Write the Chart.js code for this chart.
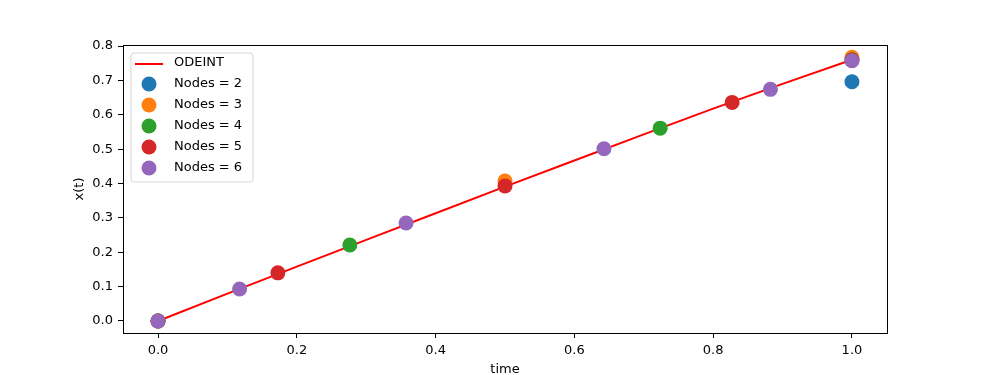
<!DOCTYPE html>
<html lang="en">
<head>
    <meta charset="UTF-8">
    <title>ODEINT vs collocation nodes</title>
    <script src="https://cdn.jsdelivr.net/npm/chart.js"></script>
    <style>
        body {
            margin: 0;
            background: #ffffff;
        }
        canvas {
            display: block;
        }
    </style>
</head>
<body>

    <canvas id="odeChart" width="984" height="375"></canvas>

    <script>
        // reference solution (odeint)
        const odeTime = [0, 0.1, 0.2, 0.3, 0.4, 0.5, 0.6, 0.7, 0.8, 0.9, 1.0];
        const odeValues = [0, 0.0795, 0.158, 0.236, 0.3135, 0.391, 0.467, 0.543, 0.618, 0.690, 0.760];

        // collocation results per number of nodes
        const nodes2Time = [0, 1];
        const nodes2Values = [0, 0.696];
        const nodes3Time = [0, 0.5, 1];
        const nodes3Values = [0, 0.407, 0.767];
        const nodes4Time = [0, 0.2764, 0.7236, 1];
        const nodes4Values = [0, 0.221, 0.561, 0.760];
        const nodes5Time = [0, 0.1727, 0.5, 0.8273, 1];
        const nodes5Values = [0, 0.140, 0.393, 0.636, 0.759];
        const nodes6Time = [0, 0.1175, 0.3574, 0.6426, 0.8825, 1];
        const nodes6Values = [0, 0.093, 0.285, 0.501, 0.674, 0.757];

        const xTicks = [0, 0.2, 0.4, 0.6, 0.8, 1.0];
        const yTicks = [0, 0.1, 0.2, 0.3, 0.4, 0.5, 0.6, 0.7, 0.8];

        const FONT = "'DejaVu Sans', sans-serif";

        function toPoints(xs, ys) {
            return xs.map((x, i) => ({ x: x, y: ys[i] }));
        }

        function nodeSet(label, xs, ys, color, order) {
            return {
                label: label,
                data: toPoints(xs, ys),
                backgroundColor: color,
                borderColor: color,
                borderWidth: 0,
                pointRadius: 7.5,
                pointHoverRadius: 7.5,
                showLine: false,
                order: order
            };
        }

        // box around the plot + matplotlib-like legend in the upper left
        const framePlugin = {
            id: "frame",
            afterDraw(chart) {
                const ctx = chart.ctx;
                const a = chart.chartArea;
                ctx.save();
                ctx.strokeStyle = "#000000";
                ctx.lineWidth = 1;
                ctx.strokeRect(Math.round(a.left) + 0.5, Math.round(a.top) + 0.5,
                    Math.round(a.right - a.left), Math.round(a.bottom - a.top));

                // legend
                const x0 = a.left + 8, y0 = a.top + 8;
                const w = 122, h = 129, r = 3;
                ctx.beginPath();
                ctx.moveTo(x0 + r, y0);
                ctx.arcTo(x0 + w, y0, x0 + w, y0 + h, r);
                ctx.arcTo(x0 + w, y0 + h, x0, y0 + h, r);
                ctx.arcTo(x0, y0 + h, x0, y0, r);
                ctx.arcTo(x0, y0, x0 + w, y0, r);
                ctx.closePath();
                ctx.fillStyle = "rgba(255,255,255,0.8)";
                ctx.fill();
                ctx.strokeStyle = "#d6d6d6";
                ctx.stroke();

                ctx.font = "13px " + FONT;
                ctx.textBaseline = "middle";
                ctx.textAlign = "left";
                chart.data.datasets.forEach((ds, i) => {
                    const cy = y0 + 10 + i * 21;
                    if (ds.showLine) {
                        ctx.strokeStyle = ds.borderColor;
                        ctx.lineWidth = 2;
                        ctx.beginPath();
                        ctx.moveTo(x0 + 4, cy + 1);
                        ctx.lineTo(x0 + 32, cy + 1);
                        ctx.stroke();
                    } else {
                        ctx.fillStyle = ds.backgroundColor;
                        ctx.beginPath();
                        ctx.arc(x0 + 18, cy, 7.5, 0, Math.PI * 2);
                        ctx.fill();
                    }
                    ctx.fillStyle = "#000000";
                    ctx.fillText(ds.label, x0 + 43, cy);
                });
                ctx.restore();
            }
        };

        const ctx = document.getElementById("odeChart").getContext("2d");
        new Chart(ctx, {
            type: "scatter",
            data: {
                datasets: [
                    {
                        label: "ODEINT",
                        data: toPoints(odeTime, odeValues),
                        showLine: true,
                        borderColor: "#ff0000",
                        backgroundColor: "#ff0000",
                        borderWidth: 2,
                        pointRadius: 0,
                        pointHoverRadius: 0,
                        tension: 0,
                        order: 6
                    },
                    nodeSet("Nodes = 2", nodes2Time, nodes2Values, "#1f77b4", 5),
                    nodeSet("Nodes = 3", nodes3Time, nodes3Values, "#ff7f0e", 4),
                    nodeSet("Nodes = 4", nodes4Time, nodes4Values, "#2ca02c", 3),
                    nodeSet("Nodes = 5", nodes5Time, nodes5Values, "#d62728", 2),
                    nodeSet("Nodes = 6", nodes6Time, nodes6Values, "#9467bd", 1)
                ]
            },
            options: {
                responsive: false,
                animation: false,
                events: [],
                layout: {
                    padding: { left: 0, top: 45, right: 97, bottom: 0 }
                },
                plugins: {
                    legend: { display: false },
                    tooltip: { enabled: false }
                },
                scales: {
                    x: {
                        type: "linear",
                        min: -0.0505,
                        max: 1.0505,
                        afterBuildTicks: (scale) => {
                            scale.ticks = xTicks.map(v => ({ value: v }));
                        },
                        afterFit: (scale) => { scale.height = 42; },
                        grid: {
                            drawOnChartArea: false,
                            drawTicks: true,
                            tickLength: 5,
                            tickColor: "#000000"
                        },
                        border: { display: false },
                        ticks: {
                            color: "#000000",
                            font: { family: FONT, size: 13 },
                            padding: 5,
                            maxRotation: 0,
                            callback: (v) => v.toFixed(1)
                        },
                        title: {
                            display: true,
                            text: "time",
                            color: "#000000",
                            font: { family: FONT, size: 13 },
                            padding: { top: 0, bottom: -2 }
                        }
                    },
                    y: {
                        type: "linear",
                        min: -0.035,
                        max: 0.803,
                        afterBuildTicks: (scale) => {
                            scale.ticks = yTicks.map(v => ({ value: v }));
                        },
                        afterFit: (scale) => { scale.width = 123; },
                        grid: {
                            drawOnChartArea: false,
                            drawTicks: true,
                            tickLength: 5,
                            tickColor: "#000000"
                        },
                        border: { display: false },
                        ticks: {
                            color: "#000000",
                            font: { family: FONT, size: 13 },
                            padding: 5,
                            callback: (v) => v.toFixed(1)
                        },
                        title: {
                            display: true,
                            text: "x(t)",
                            color: "#000000",
                            font: { family: FONT, size: 13 },
                            padding: { top: 72, bottom: 0 }
                        }
                    }
                }
            },
            plugins: [framePlugin]
        });
    </script>

</body>
</html>
